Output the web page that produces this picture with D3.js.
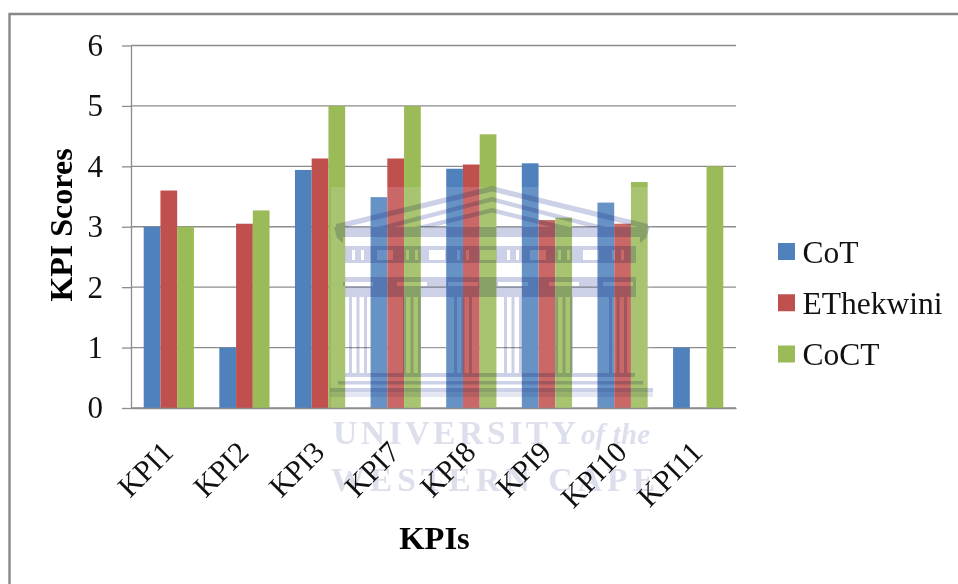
<!DOCTYPE html>
<html>
<head>
<meta charset="utf-8">
<title>KPI Scores</title>
<script src="https://cdn.jsdelivr.net/npm/d3@7/dist/d3.min.js"></script>
<style>
  html, body { margin: 0; padding: 0; background: #fff; }
  svg { display: block; }
  text { font-family: "Liberation Serif", serif; fill: #111; }
</style>
</head>
<body>
<svg id="chart" width="958" height="584"></svg>
<script>
const categories = ["KPI1", "KPI2", "KPI3", "KPI7", "KPI8", "KPI9", "KPI10", "KPI11"];
const seriesNames = ["CoT", "EThekwini", "CoCT"];
const cot = [3, 1, 3.94, 3.49, 3.96, 4.05, 3.40, 1];
const ethekwini = [3.6, 3.05, 4.13, 4.13, 4.03, 3.11, 3.05, 0];
const coct = [3, 3.27, 5, 5, 4.53, 3.15, 3.74, 4];
const seriesColors = ["#4f81bd", "#c0504d", "#9bbb59"];
const yTicks = [0, 1, 2, 3, 4, 5, 6];
const seriesValues = [cot, ethekwini, coct];

const svg = d3.select("#chart");
const gridColor = "#8c8c8c";

// Outer frame runs off the right and bottom of the page
svg.append("path")
  .attr("d", "M9.5,584V14H958")
  .attr("fill", "none")
  .attr("stroke", "#888")
  .attr("stroke-width", 2.4);

const plot = { left: 131, right: 736, top: 45.5, bottom: 408 };

const y = d3.scaleLinear().domain([0, 6]).range([plot.bottom, plot.top]);
const x0 = d3.scaleBand().domain(categories)
  .range([plot.left, plot.right]).paddingInner(0.336).paddingOuter(0.168);
const x1 = d3.scaleBand().domain(seriesNames).range([0, x0.bandwidth()]);

// Horizontal gridlines
svg.append("g")
  .selectAll("line")
  .data(yTicks)
  .join("line")
  .attr("x1", plot.left)
  .attr("x2", plot.right)
  .attr("y1", d => y(d))
  .attr("y2", d => y(d))
  .attr("stroke", gridColor)
  .attr("stroke-width", 1.3);

// Value axis
const yAxis = svg.append("g")
  .attr("transform", `translate(${plot.left},0)`)
  .call(d3.axisLeft(y).tickValues(yTicks).tickFormat(d3.format("d")).tickSize(9).tickPadding(19).tickSizeOuter(0));
yAxis.selectAll("line, path").attr("stroke", gridColor).attr("stroke-width", 1.3);
yAxis.selectAll("text")
  .style("font-family", '"Liberation Serif", serif')
  .style("font-size", "31px")
  .attr("dy", "0.32em")
  .attr("fill", "#111");

// Grouped bars
svg.append("g")
  .selectAll("g")
  .data(categories)
  .join("g")
  .attr("transform", d => `translate(${x0(d)},0)`)
  .selectAll("rect")
  .data((d, i) => seriesNames.map((name, s) => ({ name, color: seriesColors[s], value: seriesValues[s][i] })))
  .join("rect")
  .attr("x", d => x1(d.name))
  .attr("width", x1.bandwidth())
  .attr("y", d => y(d.value))
  .attr("height", d => plot.bottom - y(d.value))
  .attr("fill", d => d.color);

// University crest printed across the plot
const crest = svg.append("g");
const inkFill = "#cdd1e7";
const ink = crest.append("g").style("mix-blend-mode", "multiply").attr("fill", inkFill);

crest.insert("rect", ":first-child")
  .attr("x", 331).attr("y", 187).attr("width", 321).attr("height", 221)
  .attr("fill", "#fff").attr("opacity", 0.14);

const slab = (xa, ya, w, h) => ink.append("rect").attr("x", xa).attr("y", ya).attr("width", w).attr("height", h);

// Roof: three nested gables
[[336, 224, 186, 5.5], [362, 231, 197, 4.5], [398, 231, 208, 4.5]].forEach(([edge, foot, apex, t]) => {
  const far = 984 - edge;
  ink.append("path").attr("d",
    `M${edge},${foot}L492,${apex}L${far},${foot}L${far},${foot + t}L492,${apex + t}L${edge},${foot + t}Z`);
});

// Cornice with its curled ends
ink.append("path").attr("d", "M334,227H650L646,238L640,243V237H343V243L337,238Z");

// Frieze with window openings
const columnCentres = [358, 412, 463, 513, 564, 618];
const windowCentres = [385, 437, 488, 538, 591];
let friezePath = "M345,246H636V263H345Z";
windowCentres.forEach(c => { friezePath += `M${c - 8},250H${c + 8}V260H${c - 8}Z`; });
columnCentres.forEach(c => {
  [-6, 3].forEach(o => { friezePath += `M${c + o},250h3v10h-3Z`; });
});
ink.append("path").attr("d", friezePath).attr("fill-rule", "evenodd");

// Capital band: a full strip with pale slots above each column
let capitalPath = "M345,277H636V297H345Z";
columnCentres.forEach(c => { capitalPath += `M${c - 15},282H${c + 15}V286H${c - 15}Z`; });
ink.append("path").attr("d", capitalPath).attr("fill-rule", "evenodd");

// Fluted columns
columnCentres.forEach(c => {
  [-9, -1.5, 6].forEach(o => slab(c + o, 297, 3, 76));
});

// Stepped base
slab(345, 373, 290, 4);
slab(338, 381, 305, 3.5);
slab(330, 388, 323, 4.5);
ink.append("rect").attr("x", 330).attr("y", 393).attr("width", 323).attr("height", 4).attr("opacity", 0.55);

// Crest lettering
const lettering = svg.append("g");
lettering.append("text")
  .attr("x", 333).attr("y", 444)
  .attr("textLength", 243).attr("lengthAdjust", "spacing")
  .style("font-size", "33.5px").style("font-weight", "bold").style("fill", "#dde0ec")
  .text("UNIVERSITY");
lettering.append("text")
  .attr("x", 581).attr("y", 444)
  .attr("textLength", 69).attr("lengthAdjust", "spacing")
  .style("font-size", "29px").style("font-style", "italic").style("font-weight", "bold").style("fill", "#dde0ec")
  .text("of the");
lettering.append("text")
  .attr("x", 331).attr("y", 491)
  .attr("textLength", 324).attr("lengthAdjust", "spacing")
  .style("font-size", "33.5px").style("font-weight", "bold").style("fill", "#dde0ec")
  .text("WESTERN CAPE");

// Category axis: baseline plus slanted labels
const xAxis = svg.append("g")
  .attr("transform", `translate(0,${plot.bottom})`)
  .call(d3.axisBottom(x0).tickSize(0).tickSizeOuter(0));
xAxis.select("path").attr("stroke", gridColor).attr("stroke-width", 1.3);
xAxis.selectAll("text")
  .style("font-family", '"Liberation Serif", serif')
  .style("font-size", "30px")
  .attr("fill", "#111")
  .attr("text-anchor", "end")
  .attr("x", 0).attr("y", 0).attr("dy", 0)
  .attr("transform", "translate(6,46) rotate(-45)");

// Axis titles
svg.append("text")
  .attr("transform", "translate(72,225) rotate(-90)")
  .attr("text-anchor", "middle")
  .style("font-size", "32px").style("font-weight", "bold").style("fill", "#000")
  .text("KPI Scores");
svg.append("text")
  .attr("x", 434.5).attr("y", 549)
  .attr("text-anchor", "middle")
  .style("font-size", "32.5px").style("font-weight", "bold").style("fill", "#000")
  .text("KPIs");

// Legend
const legendY = d3.scalePoint().domain(seriesNames).range([251.5, 354]);
const legend = svg.append("g")
  .selectAll("g")
  .data(seriesNames)
  .join("g")
  .attr("transform", d => `translate(778,${legendY(d)})`);
legend.append("rect")
  .attr("x", 0).attr("y", -8.5).attr("width", 17).attr("height", 17)
  .attr("fill", (d, i) => seriesColors[i]);
legend.append("text")
  .attr("x", 24.5).attr("y", 11)
  .style("font-size", "31.5px")
  .text(d => d);
</script>
</body>
</html>
